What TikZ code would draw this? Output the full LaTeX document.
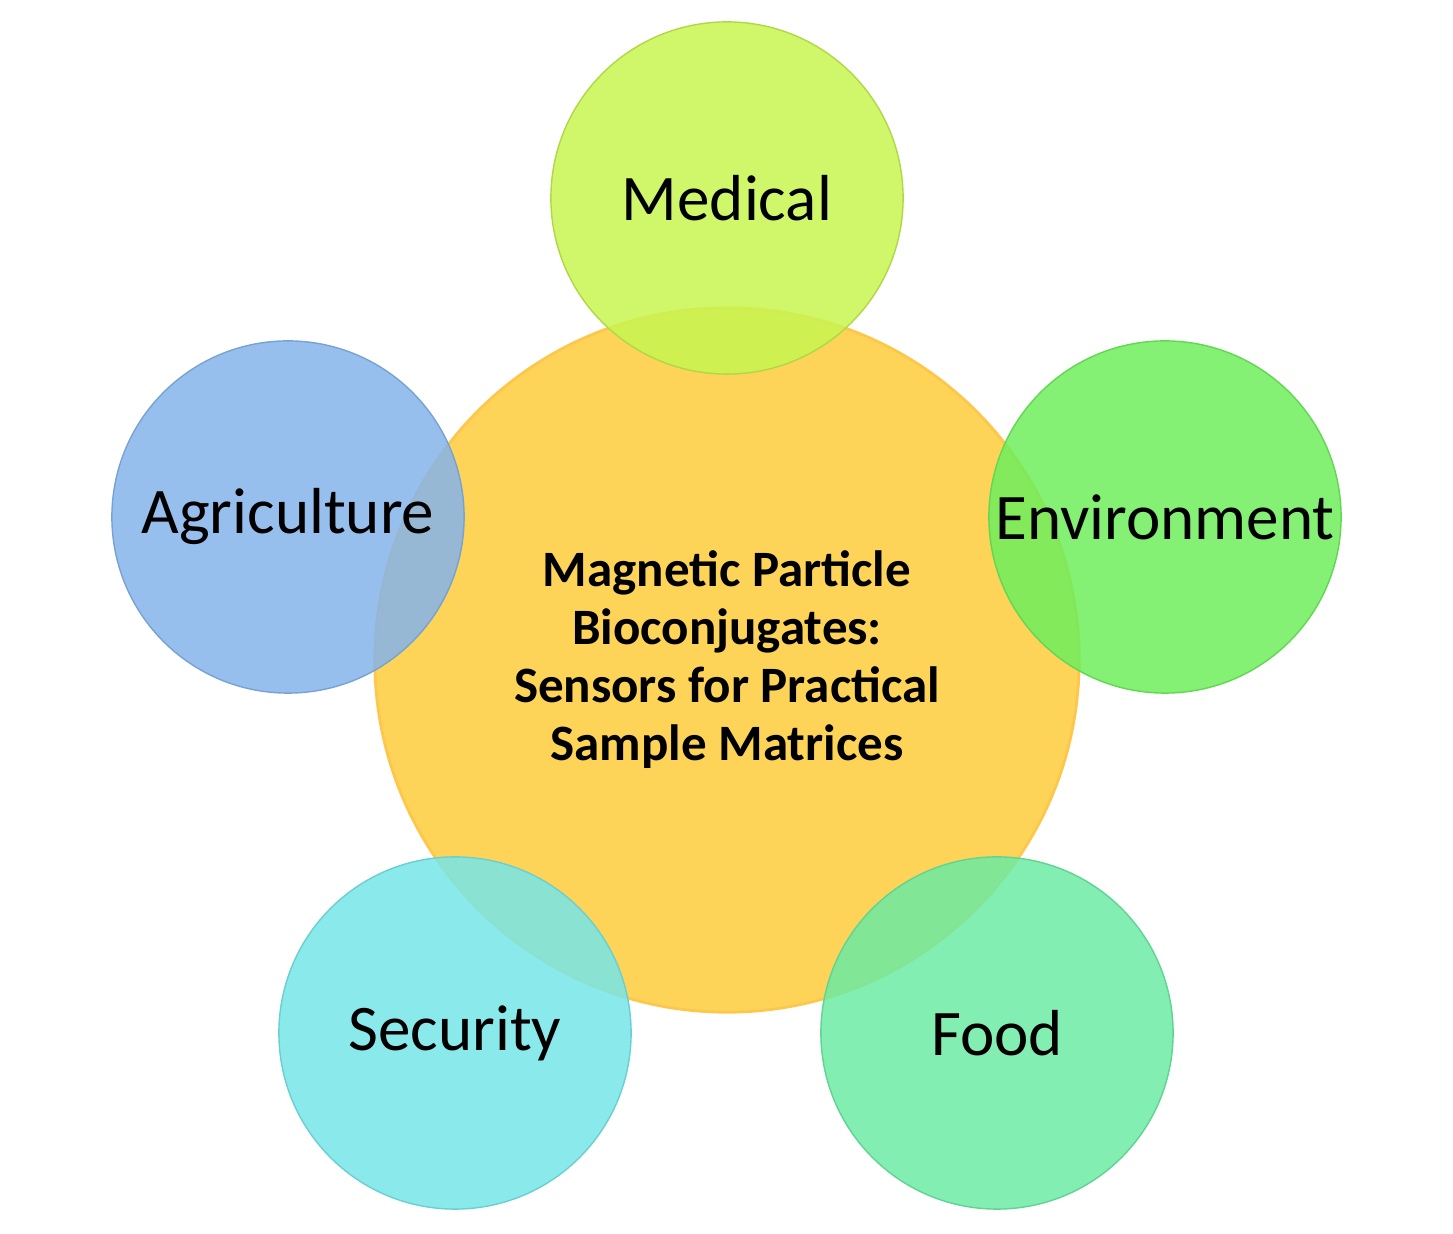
\documentclass[tikz,border=0pt]{standalone}
\usepackage{fontspec}
\setmainfont{Carlito}
\usepackage{tikz}
\definecolor{hubfill}{HTML}{FDD458}
\definecolor{medfill}{HTML}{C8F550}
\definecolor{agrfill}{HTML}{85B4EA}
\definecolor{envfill}{HTML}{6EEE5C}
\definecolor{secfill}{HTML}{76E6E8}
\definecolor{foodfill}{HTML}{6CEBA3}
\tikzset{
  spoke/.style={circle, minimum size=3.52cm, inner sep=0pt, fill opacity=0.85, text opacity=1, font=\fontsize{18.5}{22}\selectfont},
  hub/.style={circle, minimum size=7.04cm, inner sep=0pt, fill=hubfill, draw=hubfill!85!orange, thick, align=center, font=\bfseries\fontsize{14.5}{16.5}\selectfont}
}
\begin{document}
\begin{tikzpicture}[x=0.01cm, y=-0.01cm]
    \useasboundingbox (0,0) rectangle (1453,1234);
    
    %Centre
    \node[hub] (hub) at (727,660) {Magnetic Particle\\Bioconjugates:\\Sensors for Practical\\Sample Matrices};
    
    %Application areas
    \node[spoke, fill=medfill, draw=medfill!88!black] (medical) at (727,198) {Medical};
    \node[spoke, fill=agrfill, draw=agrfill!90!black] (agriculture) at (288,517) {Agriculture};
    \node[spoke, fill=envfill, draw=envfill!90!black] (environment) at (1165,517) {Environment};
    \node[spoke, fill=secfill, draw=secfill!90!black] (security) at (455,1033) {Security};
    \node[spoke, fill=foodfill, draw=foodfill!90!black] (food) at (997,1033) {Food};
    
\end{tikzpicture}
\end{document}
